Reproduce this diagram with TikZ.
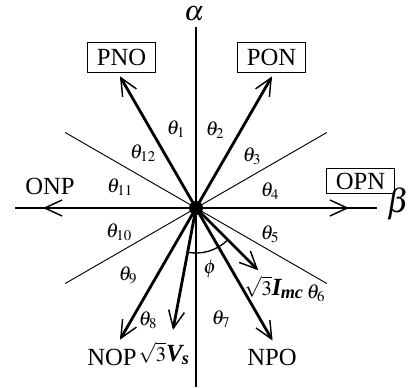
\documentclass[tikz,border=0pt]{standalone}
\usepackage{mathptmx}
\usepackage[no-math]{fontspec}
\setmainfont{Liberation Serif}
\usetikzlibrary{arrows.meta}
\newcommand{\rtthree}{{\fontsize{15.5}{16}\selectfont$\sqrt{3}$}}
\begin{document}
\begin{tikzpicture}[x=0.75pt,y=0.75pt,
  vec/.style={line width=2.1pt,-{Straight Barb[length=13pt,width=12pt,line width=1.1pt]}},
  divline/.style={line width=0.7pt},
  lbl/.style={font=\fontsize{18.5}{20}\selectfont, inner sep=0pt},
  th/.style={font=\fontsize{15}{16}\selectfont, inner sep=0pt},
  boxlbl/.style={draw, line width=0.6pt, inner sep=0pt, lbl, minimum width=51pt, minimum height=22.5pt},
]
\useasboundingbox (0,0) rectangle (417,387);
\coordinate (c) at (196,179);
\coordinate (atop) at (196,360);
\coordinate (abot) at (196,0);
\coordinate (bl) at (15,179);
\coordinate (br) at (377,179);
\draw[line width=1.5pt] (abot) -- (atop);
\draw[line width=2.2pt] (bl) -- (br);
\foreach \a in {30,150,210,330} {
  \path (c) ++(\a:151) coordinate (d\a);
  \draw[divline] (c) -- (d\a);
}
\path (c) ++(120:152) coordinate (tPNO);
\path (c) ++(60:152) coordinate (tPON);
\path (c) ++(0:153) coordinate (tOPN);
\path (c) ++(180:153) coordinate (tONP);
\path (c) ++(240:152) coordinate (tNOP);
\path (c) ++(300:153) coordinate (tNPO);
\path (c) ++(-100.7:124) coordinate (tVs);
\path (c) ++(-45:88) coordinate (tImc);
\foreach \t in {PNO,PON,OPN,ONP,NOP,NPO,Vs,Imc}
  \draw[vec] (c) -- (t\t);
\node[circle, fill, inner sep=0pt, minimum size=10.5pt] (dot) at (c) {};
\draw[line width=1pt] (c) ++(-100.7:45) arc[start angle=-100.7, end angle=-46, radius=45];
% labels
\node[font=\fontsize{21}{23}\selectfont, inner sep=0pt] (alpha) at (194,373) {$\alpha$};
\node[font=\fontsize{25}{27}\selectfont, inner sep=0pt] (beta) at (398,183) {$\beta$};
\node[boxlbl] (PNO) at (121.5,330) {PNO};
\node[boxlbl] (PON) at (271.5,330) {PON};
\node[boxlbl, minimum height=19pt] (OPN) at (360.5,206) {OPN};
\node[lbl, anchor=base] (ONP) at (50,193) {ONP};
\node[lbl, anchor=base] (NOP) at (112,22) {NOP};
\node[lbl, anchor=base] (NPO) at (272,22) {NPO};
\node[lbl, anchor=base east] (Vs) at (190,26) {\rtthree\textbf{\textit{V\kern-0.5pt\textsubscript{s}}}};
\node[lbl, anchor=base east] (Imc) at (304,92) {\rtthree\textbf{\textit{I\kern-0.5pt\textsubscript{mc}}}};
\node[th] (th1) at (176,258) {$\theta_1$};
\node[th] (th2) at (215,257) {$\theta_2$};
\node[th] (th3) at (252,231) {$\theta_3$};
\node[th] (th4) at (270,196) {$\theta_4$};
\node[th] (th5) at (270,153) {$\theta_5$};
\node[th] (th6) at (316,94) {$\theta_6$};
\node[th] (th7) at (221,68) {$\theta_7$};
\node[th] (th8) at (148,67) {$\theta_8$};
\node[th] (th9) at (128,112) {$\theta_9$};
\node[th] (th10) at (119,155) {$\theta_{10}$};
\node[th] (th11) at (120,200) {$\theta_{11}$};
\node[th] (th12) at (143,234) {$\theta_{12}$};
\node[th] (phi) at (210,118) {$\phi$};
\end{tikzpicture}
\end{document}
